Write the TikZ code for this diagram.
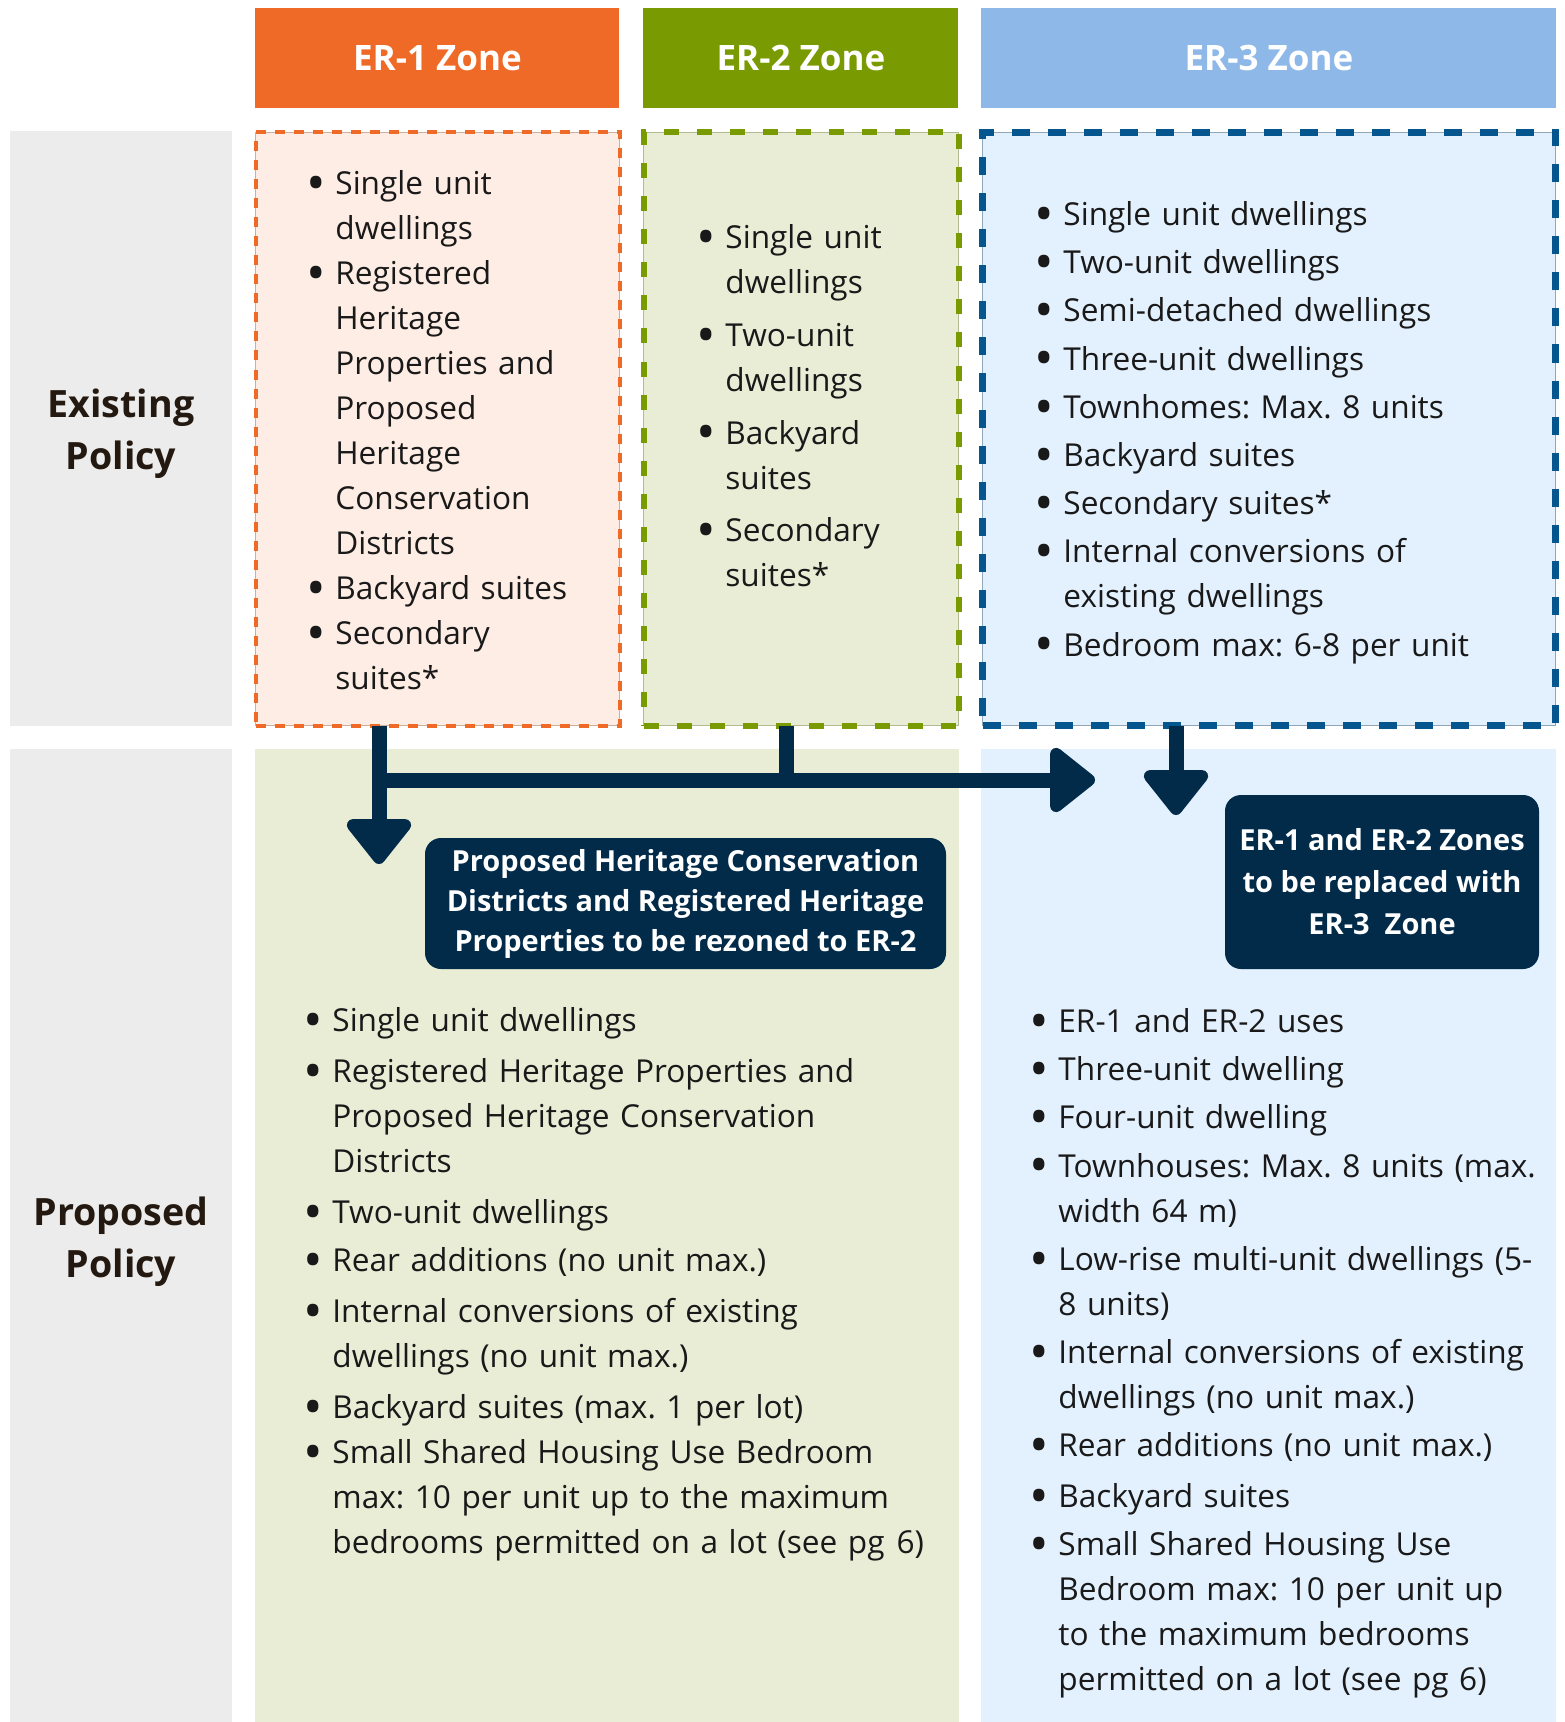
\documentclass[tikz,border=0pt]{standalone}
\usepackage{fontspec}
\setmainfont{Open Sans}
\usetikzlibrary{arrows.meta}
\frenchspacing
\definecolor{erorange}{HTML}{EF6A26}
\definecolor{ergreen}{HTML}{7A9A01}
\definecolor{erblue}{HTML}{8DB8E8}
\definecolor{erdash}{HTML}{05558F}
\definecolor{navy}{HTML}{022B4A}
\definecolor{labeltext}{HTML}{231910}
\definecolor{greypanel}{HTML}{ECECEC}
\definecolor{orangefill}{HTML}{FDEDE4}
\definecolor{greenfill}{HTML}{E9EDD6}
\definecolor{bluefill}{HTML}{E3F0FD}
\newcommand\bul{\leavevmode\llap{\makebox[12.5pt][l]{\hspace{-1.8pt}\smash{\raisebox{-3.4pt}{\fontsize{26}{26}\selectfont\textbullet}}}}}
\tikzset{
    >={Triangle[width=37pt, length=24.5pt, round]},
    zonehead/.style={fill=#1, anchor=north west, inner sep=0pt, minimum height=50pt,
        text=white, font=\bfseries\fontsize{17.5}{21}\selectfont},
    zonebox/.style n args={4}{fill=#1, anchor=north west, inner sep=0pt, minimum height=296.5pt,
        draw=#2!45!gray!60, line width=0.5pt, postaction={draw=#2, line width=#3, dash pattern=#4}},
    policy/.style={inner sep=0pt, text=labeltext, align=center,
        font=\bfseries\fontsize{18.8}{25.8}\selectfont},
    zonelist/.style={anchor=base west, inner sep=0pt, text width=#1, align=left,
        text=black!90, font=\fontsize{15.8}{22.5}\selectfont},
    notebox/.style={fill=navy, rounded corners=8pt, inner sep=0pt, text=white, align=center,
        font=\bfseries\fontsize{14.5}{#1}\selectfont},
    flow/.style={draw=navy, line width=7.5pt},
}
\begin{document}
\begin{tikzpicture}[x=0.5pt, y=-0.5pt]
    \useasboundingbox (0,0) rectangle (1564,1722);
    \fill[greypanel] (10,131) rectangle (232,726);
    \fill[greypanel] (10,749) rectangle (232,1722);
    \fill[greenfill] (255,749) rectangle (959,1722);
    \fill[bluefill] (981,749) rectangle (1556,1722);
    \node[policy] (existing) at (121,434) {Existing\\Policy};
    \node[policy] (proposed) at (121,1241.5) {Proposed\\Policy};
    \foreach \n/\x/\w/\hc in {1/255/182pt/erorange, 2/643/157.5pt/ergreen, 3/981/287.5pt/erblue}
        \node[zonehead=\hc, minimum width=\w] (er\n head) at (\x,8) {ER-\n\ Zone};
    \node[zonebox={orangefill}{erorange}{2pt}{on 5pt off 4.5pt}, minimum width=182pt] (er1box) at (255,132) {};
    \node[zonebox={greenfill}{ergreen}{3pt}{on 7.5pt off 9pt}, minimum width=157.5pt] (er2box) at (643,132) {};
    \node[zonebox={bluefill}{erdash}{3.5pt}{on 9pt off 9pt}, minimum width=286.5pt] (er3box) at (982,132) {};
    \node[zonelist=130pt] (er1list) at (335,195) {\bul Single unit\\dwellings\\
        \bul Registered\\Heritage\\Properties and\\Proposed\\Heritage\\Conservation\\Districts\\
        \bul Backyard suites\\
        \bul Secondary\\suites*};
    \node[zonelist=110pt] (er2list) at (725,249) {\bul Single unit\\dwellings\\[3.8pt]
        \bul Two-unit\\dwellings\\[3.8pt]
        \bul Backyard\\suites\\[3.8pt]
        \bul Secondary\\suites*};
    \node[zonelist=230pt] (er3list) at (1063,225.5) {\bul Single unit dwellings\\[1.6pt]
        \bul Two-unit dwellings\\[1.6pt]
        \bul Semi-detached dwellings\\[1.6pt]
        \bul Three-unit dwellings\\[1.6pt]
        \bul Townhomes: Max. 8 units\\[1.6pt]
        \bul Backyard suites\\[1.6pt]
        \bul Secondary suites*\\[1.6pt]
        \bul Internal conversions of\\existing dwellings\\[1.6pt]
        \bul Bedroom max: 6-8 per unit};
    \node[zonelist=330pt] (proplist) at (332,1031.5) {\bul Single unit dwellings\\[3pt]
        \bul Registered Heritage Properties and\\Proposed Heritage Conservation\\Districts\\[3pt]
        \bul Two-unit dwellings\\[1.6pt]
        \bul Rear additions (no unit max.)\\[3pt]
        \bul Internal conversions of existing\\dwellings (no unit max.)\\[3pt]
        \bul Backyard suites (max. 1 per lot)\\
        \bul Small Shared Housing Use Bedroom\\max: 10 per unit up to the maximum\\bedrooms permitted on a lot (see pg\hspace{6pt}6)};
    \node[zonelist=245pt] (er3newlist) at (1058,1032.5) {\bul ER-1 and ER-2 uses\\[1.6pt]
        \bul Three-unit dwelling\\[1.6pt]
        \bul Four-unit dwelling\\[1.6pt]
        \bul Townhouses: Max. 8 units (max.\\width 64 m)\\[1.6pt]
        \bul Low-rise multi-unit dwellings (5-\\8 units)\\[1.6pt]
        \bul Internal conversions of existing\\dwellings (no unit max.)\\[1.6pt]
        \bul Rear additions (no unit max.)\\[3pt]
        \bul Backyard suites\\[1.6pt]
        \bul Small Shared Housing Use\\Bedroom max: 10 per unit up\\to the maximum bedrooms\\permitted on a lot (see pg 6)};
    \coordinate (er1drop) at (379,864);
    \coordinate (er1join) at (379,780);
    \coordinate (er2join) at (786,780);
    \coordinate (er3tip) at (1095,780);
    \coordinate (er3drop) at (1176,815);
    \draw[flow, ->] (er1box.south -| er1drop) -- (er1drop);
    \draw[flow] (er2box.south -| er2join) -- (er2join);
    \draw[flow, ->] (er1join) -- (er3tip);
    \draw[flow, ->] (er3box.south -| er3drop) -- (er3drop);
    \node[notebox=20pt, minimum width=260.5pt, minimum height=65.5pt] (er2note) at (685.5,903.5)
        {Proposed Heritage Conservation\\Districts and Registered Heritage\\Properties to be rezoned to ER-2};
    \node[notebox=21pt, minimum width=157pt, minimum height=87pt] (er3note) at (1382,882)
        {ER-1 and ER-2 Zones\\to be replaced with\\ER-3~~Zone};
\end{tikzpicture}
\end{document}
